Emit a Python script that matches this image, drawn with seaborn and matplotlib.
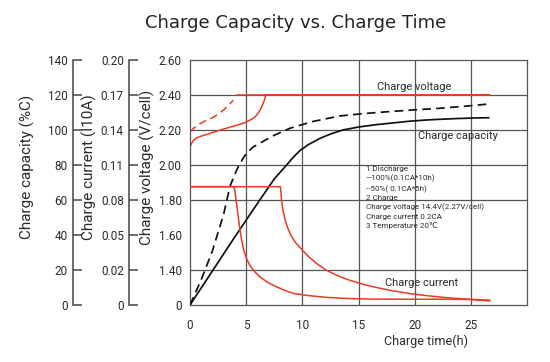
#!/usr/bin/env python3

import numpy as np
import matplotlib
matplotlib.use("Agg")
import matplotlib.pyplot as plt
import seaborn as sns

# --- data ---
# charge voltage (V/cell): 100% discharge (solid) and 50% discharge (dashed)
volt100_t = [0, 0.1, 0.3, 0.6, 1.0, 1.5, 2.0, 2.7, 3.5, 4.2, 4.8, 5.3, 5.7, 6.0, 6.3,
             6.5, 6.65, 6.74, 26.7]
volt100_v = [2.10, 2.12, 2.14, 2.155, 2.165, 2.175, 2.185, 2.20, 2.215, 2.228, 2.24,
             2.255, 2.27, 2.29, 2.32, 2.35, 2.375, 2.40, 2.40]
volt50_t = [0, 0.5, 1.0, 1.5, 2.0, 2.5, 3.0, 3.4, 3.85]
volt50_v = [2.19, 2.22, 2.24, 2.257, 2.27, 2.29, 2.315, 2.34, 2.37]
volt50_flat_t = [4.2, 26.7]
volt50_flat_v = [2.40, 2.40]

# charge capacity (%C)
cap100_t = [0, 2, 4, 6, 7.5, 8.6, 9.2, 9.8, 10.5, 11.5, 12.5, 13.6, 15, 16.5, 18, 19.5,
            21, 22.5, 24, 25.5, 26.6]
cap100_c = [0, 19.5, 39, 58, 72, 80, 84.5, 88.3, 91.5, 95, 97.7, 100, 101.7, 103, 104,
            105, 105.7, 106.2, 106.6, 106.9, 107]
cap50_t = [0, 1, 2, 3, 3.55, 4.0, 4.3, 4.7, 5.0, 5.6, 6.5, 7.5, 8.9, 10.9, 13.3, 15.5,
           17.7, 20, 22.2, 24.5, 26.7]
cap50_c = [0, 14.5, 31, 52, 67.6, 75, 79, 83.5, 86.5, 90.2, 93.5, 97, 101, 104.8, 108,
           109.4, 110.5, 111.5, 112.4, 113.6, 114.9]

# charge current (I10A)
cur100_t = [0, 8.05, 8.1, 8.15, 8.25, 8.45, 8.7, 9.0, 9.4, 10.0, 10.6, 11.3, 12.1, 13.0,
            14.0, 15.1, 16.3, 17.8, 19.5, 21.0, 22.5, 24.5, 26.7]
cur100_i = [0.0914, 0.0914, 0.086, 0.080, 0.0725, 0.0635, 0.056, 0.0494, 0.0434, 0.0371,
            0.0311, 0.0254, 0.020, 0.0172, 0.0146, 0.0124, 0.0104, 0.0084, 0.0066,
            0.0054, 0.0044, 0.0034, 0.0023]
cur50_t = [0, 3.92, 4.0, 4.1, 4.2, 4.3, 4.45, 4.6, 4.8, 5.03, 5.3, 5.7, 6.2, 6.9, 7.7,
           8.5, 9.2, 10.5, 12.1, 14, 16, 19, 22, 25, 26.7]
cur50_i = [0.0914, 0.0914, 0.0875, 0.080, 0.0725, 0.065, 0.0545, 0.0455, 0.0365, 0.0299,
           0.0245, 0.0194, 0.0162, 0.013, 0.0104, 0.0082, 0.0066, 0.0054, 0.0044,
           0.0037, 0.0034, 0.0033, 0.0033, 0.0032, 0.0028]

time_ticks = [0, 5, 10, 15, 20, 25]
volt_ticks = [0, 1.40, 1.60, 1.80, 2.00, 2.20, 2.40, 2.60]
volt_grid = [1.40, 1.80, 2.00, 2.20, 2.40]
cap_ticks = [0, 20, 40, 60, 80, 100, 120, 140]
cur_ticks = [0, 0.02, 0.05, 0.08, 0.11, 0.14, 0.17, 0.20]

notes = [
    "1 Discharge",
    "\u2014100%(0.1CA*10h)",
    "--50%( 0.1CA*5h)",
    "2 Charge",
    "Charge voltage 14.4V(2.27V/cell)",
    "Charge current 0.2CA",
    "3 Temperature 20\u2103",
]

RED = "#ea3a24"
BLACK = "#111111"
GRID = "#555555"
TXT = "#2a2a2a"

sns.set_theme(style="white")
plt.rcParams["font.family"] = ["Roboto", "DejaVu Sans"]

# piecewise scales: the bottom division is compressed (0 -> first label)
volt_nodes = ([0, 1.4, 2.6], [0, 1, 7])
cur_nodes = ([0, 0.02, 0.20], [0, 1, 7])


def make_scale(nodes):
    vals, divs = nodes
    fwd = lambda x: np.interp(x, vals, divs)
    inv = lambda d: np.interp(d, divs, vals)
    return fwd, inv


fig = plt.figure(figsize=(5.5, 3.62), dpi=100)
ax = fig.add_axes([190 / 550, 57 / 362, 337 / 550, 245 / 362])
ax_cap = ax.twinx()
ax_cur = ax.twinx()

# --- voltage axis (main) ---
ax.set_yscale("function", functions=make_scale(volt_nodes))
ax.set_ylim(0, 2.6)
ax.set_xlim(0, 30)
for v in volt_grid:
    ax.axhline(v, color=GRID, lw=0.9, zorder=0)
for t in time_ticks[1:]:
    ax.axvline(t, color=GRID, lw=0.9, zorder=0)

sns.lineplot(x=volt100_t, y=volt100_v, ax=ax, color=RED, lw=1.1, sort=False, estimator=None)
sns.lineplot(x=volt50_t, y=volt50_v, ax=ax, color=RED, lw=1.1, sort=False, estimator=None,
             linestyle=(0, (5, 3)))
sns.lineplot(x=volt50_flat_t, y=volt50_flat_v, ax=ax, color=RED, lw=1.1, sort=False,
             estimator=None)

ax.set_yticks(volt_ticks)
ax.set_yticklabels([("%.2f" % v) if v else "0" for v in volt_ticks])
ax.yaxis.set_minor_locator(matplotlib.ticker.NullLocator())
ax.set_xticks(time_ticks)
ax.set_xticklabels([str(t) for t in time_ticks])
ax.tick_params(axis="both", length=0, labelsize=8.5, colors=TXT)
ax.tick_params(axis="y", pad=6)
ax.tick_params(axis="x", pad=10)
for sp in ax.spines.values():
    sp.set_color(GRID)
    sp.set_linewidth(0.9)
ax.set_ylabel("Charge voltage (V/cell)", fontsize=11, color=TXT)
ax.yaxis.set_label_coords(-0.104, 0.563)
ax.set_xlabel("Charge time(h)", fontsize=9, color=TXT, ha="right", va="center")
ax.xaxis.set_label_coords(0.825, -0.15)

# --- capacity axis ---
ax_cap.set_ylim(0, 140)
sns.lineplot(x=cap100_t, y=cap100_c, ax=ax_cap, color=BLACK, lw=1.25, sort=False,
             estimator=None)
sns.lineplot(x=cap50_t, y=cap50_c, ax=ax_cap, color=BLACK, lw=1.25, sort=False,
             estimator=None, linestyle=(0, (5, 3)))

# --- current axis ---
ax_cur.set_yscale("function", functions=make_scale(cur_nodes))
ax_cur.set_ylim(0, 0.2)
sns.lineplot(x=cur100_t, y=cur100_i, ax=ax_cur, color=RED, lw=1.1, sort=False, estimator=None)
sns.lineplot(x=cur50_t, y=cur50_i, ax=ax_cur, color=RED, lw=1.1, sort=False, estimator=None)

for a, pos, ticks, labels, lab, lx in [
    (ax_cap, -0.347, cap_ticks, [str(c) for c in cap_ticks], "Charge capacity (%C)", -0.46),
    (ax_cur, -0.18, cur_ticks, [("%.2f" % c) if c else "0" for c in cur_ticks],
     "Charge current (I10A)", -0.276),
]:
    a.yaxis.set_ticks_position("left")
    a.yaxis.set_label_position("left")
    a.spines["left"].set_visible(True)
    a.spines["left"].set_position(("axes", pos))
    a.spines["left"].set_color("#444444")
    a.spines["left"].set_linewidth(1.1)
    for s in ["right", "top", "bottom"]:
        a.spines[s].set_visible(False)
    a.set_yticks(ticks)
    a.set_yticklabels(labels)
    a.yaxis.set_minor_locator(matplotlib.ticker.NullLocator())
    a.tick_params(axis="y", direction="in", length=6.5, width=1.1, color="#444444",
                  labelsize=8.5, labelcolor=TXT, pad=4)
    a.set_ylabel(lab, fontsize=11, color=TXT)
    a.yaxis.set_label_coords(lx, 0.563)

# --- annotations ---
ax.text(0.554, 0.891, "Charge voltage", transform=ax.transAxes, fontsize=8, color=TXT,
        va="center")
ax.text(0.677, 0.69, "Charge capacity", transform=ax.transAxes, fontsize=8, color=TXT,
        va="center")
ax.text(0.579, 0.0886, "Charge current", transform=ax.transAxes, fontsize=8, color=TXT,
        va="center")
ax.text(0.522, 0.569, "\n".join(notes), transform=ax.transAxes, fontsize=5.8, color=TXT,
        va="top", linespacing=1.47, zorder=5)

fig.text(0.537, 0.936, "Charge Capacity vs. Charge Time", ha="center", va="center",
         fontsize=13, color="#222222", family=["DejaVu Sans"])

fig.savefig("out.png", dpi=100)
